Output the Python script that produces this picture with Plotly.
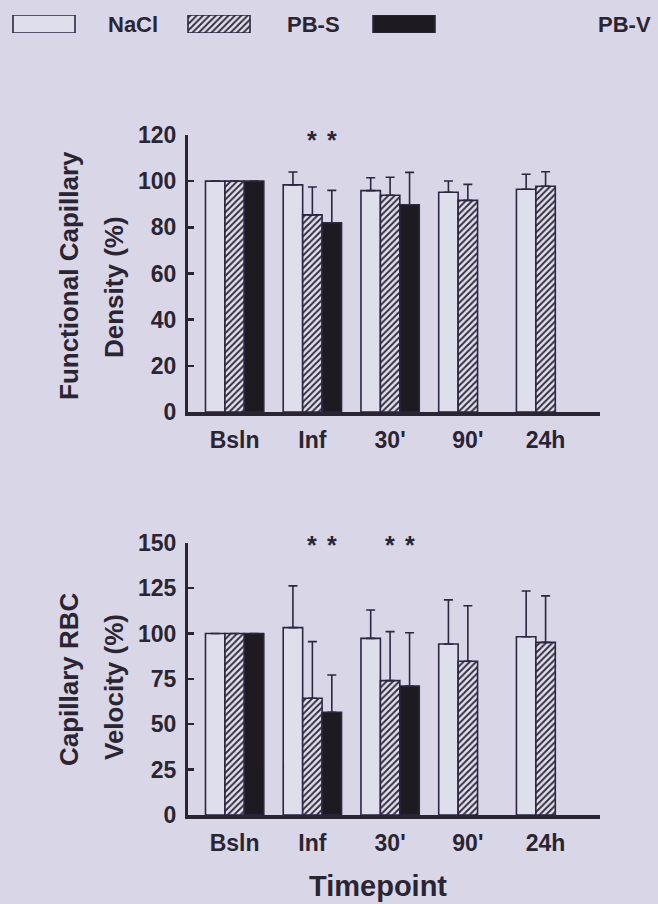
import plotly.graph_objects as go

# ---------------- data ----------------
categories = ["Bsln", "Inf", "30'", "90'", "24h"]
groups = ["NaCl", "PB-S", "PB-V"]

fcd_nacl = [100, 98.4, 95.9, 95.2, 96.5]
fcd_pbs = [100, 85.4, 93.9, 91.7, 97.8]
fcd_pbv = [100, 82.0, 89.8, None, None]
fcd_nacl_err = [None, 5.6, 5.6, 4.9, 6.5]
fcd_pbs_err = [None, 12.1, 7.8, 6.9, 6.3]
fcd_pbv_err = [None, 14.0, 14.0, None, None]

rbc_nacl = [100, 103.2, 97.3, 94.2, 98.2]
rbc_pbs = [100, 64.3, 74.0, 84.7, 95.1]
rbc_pbv = [100, 56.6, 71.1, None, None]
rbc_nacl_err = [None, 23.0, 15.6, 24.3, 25.2]
rbc_pbs_err = [None, 31.2, 27.0, 30.6, 25.6]
rbc_pbv_err = [None, 20.5, 29.3, None, None]

# significance marks: (category, group)
fcd_stars = [("Inf", "PB-S"), ("Inf", "PB-V")]
rbc_stars = [("Inf", "PB-S"), ("Inf", "PB-V"), ("30'", "PB-S"), ("30'", "PB-V")]
fcd_star_level = 120.5
rbc_star_level = 152

fcd_range = [0, 120]
rbc_range = [0, 150]
fcd_ticks = [0, 20, 40, 60, 80, 100, 120]
rbc_ticks = [0, 25, 50, 75, 100, 125, 150]

# ---------------- styles ----------------
W, H = 658, 904
BG = "#d9d7e7"
INK = "#2a2433"
BAR_LINE = "#2c2640"
WHITE_FILL = "#dfdeec"
BLACK_FILL = "#1d1a22"
FONT = "Liberation Sans, Arial, Helvetica, sans-serif"
BARGAP = 0.25
BAR_W = (1 - BARGAP) / 3

styles = {
    "NaCl": dict(marker=dict(color=WHITE_FILL, line=dict(color=BAR_LINE, width=1.6))),
    "PB-S": dict(marker=dict(color=WHITE_FILL, line=dict(color=BAR_LINE, width=1.6),
                             pattern=dict(shape="/", size=4.5, solidity=0.45,
                                          fgcolor="#332e40", bgcolor="#e3e2ee",
                                          fillmode="replace"))),
    "PB-V": dict(marker=dict(color=BLACK_FILL, line=dict(color=BAR_LINE, width=1.6))),
}


def px_x(p):
    return p / W


def px_y(p):
    return 1 - p / H


fig = go.Figure()


def add_panel(vals, errs, xa, ya):
    for g, v, e in zip(groups, vals, errs):
        fig.add_trace(go.Bar(
            x=categories, y=v, name=g, showlegend=False,
            xaxis=xa, yaxis=ya,
            error_y=dict(type="data", symmetric=False, array=e,
                         arrayminus=[0 if x is not None else None for x in e],
                         color=BAR_LINE, thickness=1.6, width=4.5),
            **styles[g]))


add_panel([fcd_nacl, fcd_pbs, fcd_pbv], [fcd_nacl_err, fcd_pbs_err, fcd_pbv_err], "x", "y")
add_panel([rbc_nacl, rbc_pbs, rbc_pbv], [rbc_nacl_err, rbc_pbs_err, rbc_pbv_err], "x2", "y2")

# legend patches (drawn as bars on a hidden pixel axis)
legend_patch_centers = [44, 219, 404]
legend_patch_width = 62
for g, c in zip(groups, legend_patch_centers):
    fig.add_trace(go.Bar(x=[c], y=[1], width=[legend_patch_width], xaxis="x3", yaxis="y3",
                         showlegend=False, hoverinfo="skip", **styles[g]))

xdom = [px_x(188), px_x(600)]
xrange_ = [-0.6, 4.7]
tickfont = dict(family=FONT, size=23, color=INK, weight="bold")
axis_common_x = dict(type="category", range=xrange_, domain=xdom, showline=True,
                     linecolor=INK, linewidth=3.5, ticks="", showgrid=False,
                     zeroline=False, tickfont=tickfont, automargin=False,
                     ticklabelstandoff=5, fixedrange=True)
axis_common_y = dict(showline=True, linecolor=INK, linewidth=3, ticks="inside",
                     ticklen=6, tickwidth=2.5, tickcolor=INK, showgrid=False,
                     zeroline=False, tickfont=tickfont, automargin=False,
                     ticklabelstandoff=4, fixedrange=True)

fig.update_layout(
    width=W, height=H, autosize=False,
    margin=dict(l=0, r=0, t=0, b=0, pad=0, autoexpand=False),
    paper_bgcolor=BG, plot_bgcolor=BG, showlegend=False,
    barmode="group", bargap=BARGAP, bargroupgap=0,
    xaxis=dict(**axis_common_x, anchor="y"),
    yaxis=dict(**axis_common_y, anchor="x", range=fcd_range, tickvals=fcd_ticks,
               domain=[px_y(412), px_y(135)]),
    xaxis2=dict(**axis_common_x, anchor="y2"),
    yaxis2=dict(**axis_common_y, anchor="x2", range=rbc_range, tickvals=rbc_ticks,
                domain=[px_y(815), px_y(542.7)]),
    xaxis3=dict(domain=[0, 1], range=[0, W], visible=False, anchor="y3",
                fixedrange=True, automargin=False),
    yaxis3=dict(domain=[px_y(33), px_y(15)], range=[0, 1], visible=False, anchor="x3",
                fixedrange=True, automargin=False),
)

ann = []
# legend labels
for g, cx in zip(groups, [133, 313, 624]):
    ann.append(dict(text="<b>%s</b>" % g, x=px_x(cx), y=px_y(25), xref="paper", yref="paper",
                    showarrow=False, xanchor="center", yanchor="middle",
                    font=dict(family=FONT, size=22, color=INK)))

# y titles
title_font = dict(family=FONT, size=26, color=INK)
for txt, cx, cy in [("Functional Capillary", 69, 276), ("Density (%)", 114, 287),
                    ("Capillary RBC", 69, 679), ("Velocity (%)", 114, 687)]:
    ann.append(dict(text="<b>%s</b>" % txt, x=px_x(cx), y=px_y(cy), xref="paper",
                    yref="paper", showarrow=False, textangle=-90,
                    xanchor="center", yanchor="middle", font=title_font))

ann.append(dict(text="<b>Timepoint</b>", x=px_x(378), y=px_y(886), xref="paper",
                yref="paper", showarrow=False, xanchor="center", yanchor="middle",
                font=dict(family=FONT, size=29, color=INK)))

# significance asterisks (placed in axis-domain units so they are drawn above the range)
offs = {g: (i - 1) * BAR_W for i, g in enumerate(groups)}
for stars, level, rng, xr, yr in [(fcd_stars, fcd_star_level, fcd_range, "x", "y domain"),
                                  (rbc_stars, rbc_star_level, rbc_range, "x2", "y2 domain")]:
    for cat, g in stars:
        ann.append(dict(text="<b>*</b>", x=categories.index(cat) + offs[g],
                        y=(level - rng[0]) / (rng[1] - rng[0]),
                        xref=xr, yref=yr, showarrow=False, xanchor="center",
                        yanchor="middle", yshift=-6,
                        font=dict(family=FONT, size=25, color=INK)))

for a in ann:
    fig.add_annotation(**a)

fig.write_html("out.html", config={"displayModeBar": False, "staticPlot": True},
               post_script="document.body.style.margin='0';document.body.style.background='%s';" % BG)
